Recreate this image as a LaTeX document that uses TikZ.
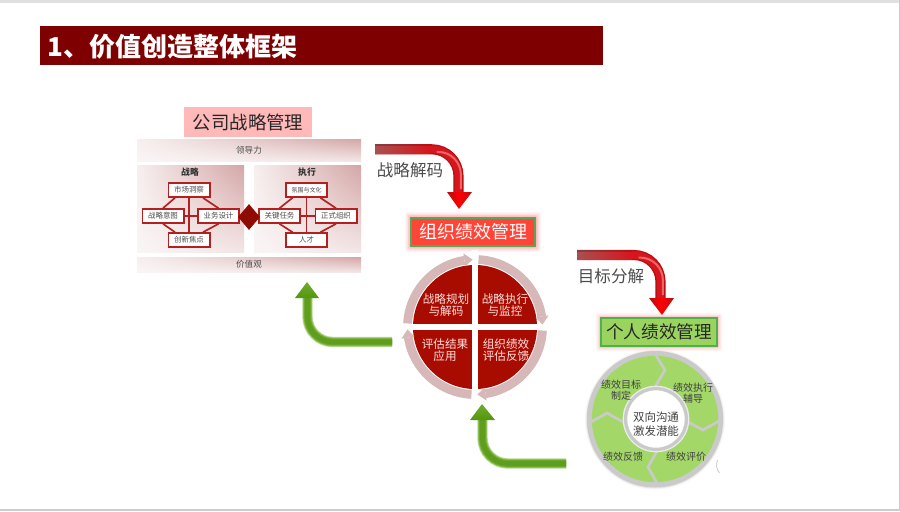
\documentclass[tikz,border=0pt]{standalone}
\usepackage{fontspec}
\setmainfont{Noto Sans CJK SC}
\usetikzlibrary{calc,shapes.geometric,shadings}
\definecolor{band}{HTML}{7F0000}
\definecolor{wred}{HTML}{A80C00}
\definecolor{wring}{HTML}{D6B8B8}
\definecolor{line}{HTML}{B42020}
\definecolor{gfill}{HTML}{A3D869}
\definecolor{gring}{HTML}{CACACA}
\definecolor{pur}{HTML}{D4A6A6}
\definecolor{pll}{HTML}{FAF5F5}
\definecolor{plr}{HTML}{F3E6E6}
\definecolor{pul}{HTML}{F7EFEF}
\definecolor{rbody}{HTML}{D6161C}
\definecolor{redge}{HTML}{B80E14}
\definecolor{rfade}{HTML}{A85050}
\definecolor{orgf}{HTML}{FF4438}
\definecolor{perf}{HTML}{9AD45E}
\definecolor{gtb}{HTML}{FFB9B9}
\tikzset{
  px/.style={font=\fontsize{#1pt}{#1pt}\selectfont,align=center,inner sep=0pt},
  inbox/.style={draw=line,line width=1.25pt,fill=white,minimum width=31pt,minimum height=10.5pt,inner sep=0pt,text=black!70,font=\fontsize{5.6pt}{6pt}\selectfont},
  conn/.style={draw=line,line width=1.25pt},
  panel/.style={upper left=pul,lower left=pll,upper right=pur,lower right=plr},
}
\begin{document}
\begin{tikzpicture}[x=.75pt,y=-.75pt]
\useasboundingbox (0,0) rectangle (900,511);
\fill[white] (0,0) rectangle (900,511);
\fill[black!12] (0,0) rectangle (900,3);
\fill[black!20] (0,509) rectangle (900,511);
\fill[black!20] (899,0) rectangle (900,511);
% title
\node[fill=band,minimum width=422.25pt,minimum height=28.7pt,anchor=north west,inner sep=0pt] (title) at (40,26) {};
\node[text=white,inner sep=0pt,font=\bfseries\fontsize{19.5pt}{22pt}\selectfont,anchor=west] (titletext) at (47,47) {1、价值创造整体框架};
% left block
\node[fill=gtb,minimum width=96pt,minimum height=22.5pt,inner sep=0pt,text=black!85,font=\fontsize{13.8pt}{15pt}\selectfont] (gs) at (248,122) {\raisebox{-1pt}{公司战略管理}};
\shade[panel] (137,139) rectangle (361,161);
\node[px=6.4,text=black!70] (ldl) at (249,150.5) {领导力};
\shade[panel] (137,165) rectangle (244,252);
\shade[panel] (254,165) rectangle (361,252);
\shade[panel] (137,257) rectangle (361,272);
\node[px=6.4,text=black!70] (jzg) at (249,264.5) {价值观};
\node[text=black!80,inner sep=0pt,font=\bfseries\fontsize{6.6pt}{8pt}\selectfont] (zl) at (190,172.5) {战略};
\node[text=black!80,inner sep=0pt,font=\bfseries\fontsize{6.6pt}{8pt}\selectfont] (zx) at (307,172.5) {执行};
\node[inbox] (a1) at (189,190) {市场洞察};
\node[inbox] (a2) at (163,216) {战略意图};
\node[inbox] (a3) at (218.5,216) {业务设计};
\node[inbox] (a4) at (189,240) {创新焦点};
\node[inbox] (b1) at (306.5,190) {\fontsize{4.5pt}{5pt}\selectfont 氛围与文化};
\node[inbox] (b2) at (279.5,216) {关键任务};
\node[inbox] (b3) at (336,216) {正式组织};
\node[inbox] (b4) at (306.5,240) {人才};
\foreach \p in {a,b}{
  \draw[conn] (\p1.south) -- (\p4.north);
  \draw[conn] (\p2.east) -- (\p3.west);
  \draw[conn] ($(\p1.south)+(-14,0)$) -- (\p2.north);
  \draw[conn] ($(\p1.south)+(14,0)$) -- (\p3.north);
  \draw[conn] ($(\p4.north)+(-14,0)$) -- (\p2.south);
  \draw[conn] ($(\p4.north)+(14,0)$) -- (\p3.south);
}
\node[diamond,fill=wred!85!black,minimum width=16.5pt,minimum height=19.5pt,inner sep=0pt] (dm) at (249,217) {};
% red arrow 1
\coordinate (r1a) at (375,149.3); \coordinate (r1b) at (458.5,149.3); \coordinate (r1c) at (458.5,193);
\coordinate (r1l) at (447,192); \coordinate (r1r) at (472,192); \coordinate (r1t) at (459,209);
% red arrow 2
\coordinate (r2a) at (577,255); \coordinate (r2b) at (660.5,255); \coordinate (r2c) at (660.5,299);
\coordinate (r2l) at (649,298); \coordinate (r2r) at (674,298); \coordinate (r2t) at (662,315);
\foreach \q in {r1,r2}{
  \draw[line width=7.6pt,color=redge,rounded corners=20pt] (\q a) -- (\q b) -- (\q c);
  \draw[line width=5.6pt,color=rbody,rounded corners=20pt] (\q a) -- (\q b) -- (\q c);
  \shade[left color=rfade,right color=rbody] ($(\q a)+(0,-4)$) rectangle ($(\q a)+(55,4)$);
  \shade[left color=rfade!80!black,right color=redge] ($(\q a)+(0,-5)$) rectangle ($(\q a)+(55,-3.8)$);
  \draw[line width=1.5pt,color=red!35!white,rounded corners=17pt,opacity=.55] ($(\q b)+(-22,2.6)$) -- ($(\q b)+(2.4,2.6)$) -- ($(\q c)+(2.4,-4)$);
  \shade[left color=redge,right color=redge,middle color=red] (\q l) -- (\q r) -- (\q t) -- cycle;
}
\node[px=12.4,text=black!70] (jm) at (410,170) {战略解码};
\node[px=12.4,text=black!70] (fj) at (611,276) {目标分解};
% org box
\foreach \w/\o in {12/.08,9/.12,6/.18,3/.25}{
  \fill[red!60,opacity=\o,rounded corners=1.5pt] ($(411,218)+(-\w*.5,-\w*.5)$) rectangle ($(535,246)+(\w*.5,\w*.5)$);
}
\node[draw=green!30!gray,line width=.8pt,fill=orgf,minimum width=93pt,minimum height=21pt,inner sep=0pt,text=white,font=\fontsize{13.5pt}{15pt}\selectfont] (org) at (473,232) {\raisebox{-.7pt}{组织绩效管理}};
% person box
\foreach \w/\o in {10/.08,7/.12,4/.18,2/.25}{
  \fill[red!60,opacity=\o,rounded corners=1.5pt] ($(601,318)+(-\w*.5,-\w*.5)$) rectangle ($(717,346)+(\w*.5,\w*.5)$);
}
\node[draw=green!40!gray,line width=.8pt,fill=perf,minimum width=87pt,minimum height=21pt,inner sep=0pt,text=black!85,font=\fontsize{13.2pt}{15pt}\selectfont] (per) at (659,332) {个人绩效管理};
% red circle
\fill[wred] (475,327) circle (46.5pt);
\draw[white,line width=4.5pt] (475,250) -- (475,405);
\draw[white,line width=4.5pt] (398,327) -- (552,327);
\foreach \a in {-87,3,93,183}{
  \draw[wring,line width=6.6pt] plot[domain=\a:\a+78,samples=30,smooth] ({475+67.5*cos(\x)},{327+67.5*sin(\x)});
  \fill[wring] ({475+61.5*cos(\a+78)},{327+61.5*sin(\a+78)}) -- ({475+74.5*cos(\a+78)},{327+74.5*sin(\a+78)}) -- ({475+67.5*cos(\a+85)},{327+67.5*sin(\a+85)}) -- cycle;
}
\tikzset{rt/.style={align=center,inner sep=0pt,text=red!12!white,font=\fontsize{8.7pt}{9.4pt}\selectfont}}
\node[rt] (c1) at (446,305) {战略规划\\与解码};
\node[rt] (c2) at (505,305) {战略执行\\与监控};
\node[rt] (c3) at (445,350) {评估结果\\应用};
\node[rt] (c4) at (506,350) {组织绩效\\评估反馈};
% green arrows
\coordinate (g1a) at (392,342); \coordinate (g1b) at (307.5,342); \coordinate (g1c) at (307.5,297);
\coordinate (g1l) at (295,298); \coordinate (g1r) at (319,298); \coordinate (g1t) at (307,282);
\coordinate (g2a) at (566,463.5); \coordinate (g2b) at (482.5,463.5); \coordinate (g2c) at (482.5,419);
\coordinate (g2l) at (470,420); \coordinate (g2r) at (495,420); \coordinate (g2t) at (482,404);
\definecolor{gs1}{RGB}{190,220,155}\definecolor{gs2}{RGB}{140,190,85}\definecolor{gs3}{RGB}{108,168,44}\definecolor{gs6}{RGB}{94,158,28}\definecolor{gs4}{RGB}{112,172,44}\definecolor{gs5}{RGB}{84,150,16}
\foreach \q in {g1,g2}{
  \draw[line width=7.8pt,color=gs1,rounded corners=19pt] (\q a) -- (\q b) -- (\q c);
  \draw[line width=6.6pt,color=gs2,rounded corners=19pt] (\q a) -- (\q b) -- (\q c);
  \draw[line width=5.2pt,color=gs3,rounded corners=19pt] (\q a) -- (\q b) -- (\q c);
  \draw[line width=3.6pt,color=gs6,rounded corners=19pt] (\q a) -- (\q b) -- (\q c);
  \shade[top color=gs4,bottom color=gs5] (\q l) -- (\q r) -- (\q t) -- cycle;
}
% green circle
\foreach \r/\o in {52.5/.06,51.7/.12,51/.25}{\fill[black!50,opacity=\o] (655,419.5) circle (\r pt);}
\fill[gring] (655,419) circle (51pt);
\fill[gfill] (655,419) circle (47.4pt);
\draw[gring,line width=2pt] (655,387) -- (665,370) -- (655,354);
\draw[gring,line width=2pt] (688,422) -- (703,430) -- (719,421);
\draw[gring,line width=2pt] (657,451) -- (648,467) -- (657,483);
\draw[gring,line width=2pt] (623,422) -- (607,413) -- (591,422);
\fill[black!8] (656,419) circle (25pt);
\fill[gring] (656,419) circle (24pt);
\fill[white] (656,419) circle (21.5pt);
\draw[black!25,line width=.5pt] (717.5,460) .. controls (716,464) and (716,469) .. (719.5,473);
\tikzset{gt/.style={align=center,inner sep=0pt,text=black!75,font=\fontsize{7.5pt}{8.2pt}\selectfont}}
\node[gt] (p1) at (621,390) {绩效目标\\制定};
\node[gt] (p2) at (693,393) {绩效执行\\辅导};
\node[gt] (p3) at (686,457) {绩效评价};
\node[gt] (p4) at (623,457) {绩效反馈};
\node[align=center,inner sep=0pt,text=black!75,font=\fontsize{8.6pt}{10.6pt}\selectfont] (p0) at (656,424) {双向沟通\\激发潜能};
\end{tikzpicture}
\end{document}
